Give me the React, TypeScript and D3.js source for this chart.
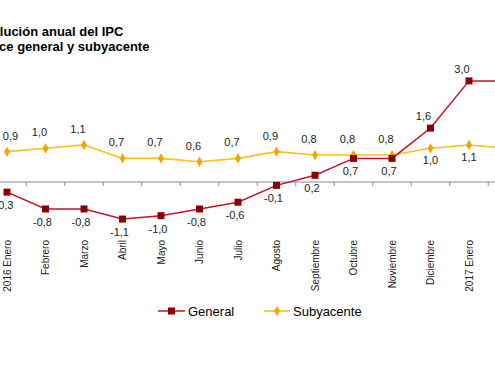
import React from "react";
import * as d3 from "d3";

const categories = [
  "2016 Enero", "Febrero", "Marzo", "Abril", "Mayo", "Junio", "Julio",
  "Agosto", "Septiembre", "Octubre", "Noviembre", "Diciembre", "2017 Enero", "Febrero",
];
const general = [-0.3, -0.8, -0.8, -1.1, -1.0, -0.8, -0.6, -0.1, 0.2, 0.7, 0.7, 1.6, 3.0, 3.0];
const subyacente = [0.9, 1.0, 1.1, 0.7, 0.7, 0.6, 0.7, 0.9, 0.8, 0.8, 0.8, 1.0, 1.1, 1.0];
const titleLines = ["Evolución anual del IPC", "Índice general y subyacente"];
const seriesNames = ["General", "Subyacente"];

const W = 495;
const H = 375;
const GEN_LINE = "#c8102e";
const GEN_MARK = "#8b0000";
const SUB_LINE = "#f7c21a";
const SUB_MARK = "#f5a300";
const FONT = "'Liberation Sans', Arial, sans-serif";

const fmt = (v: number) => v.toFixed(1).replace(".", ",");

export default function App() {
  const x = d3.scaleLinear().domain([0, categories.length - 1]).range([7, 507.5]);
  const y = d3.scaleLinear().domain([-1.5, 3.5]).range([182 + 1.5 * 33.7, 182 - 3.5 * 33.7]);
  const line = d3.line<number>().x((_, i) => x(i)).y((d) => y(d));
  const ticks = d3.range(-0.5, categories.length, 1);
  const zero = y(0);
  const visible = categories.map((_, i) => i).filter((i) => x(i) <= W);

  return (
    <svg width={W} height={H} style={{ position: "absolute", left: 0, top: 0, background: "#fff" }} fontFamily={FONT}>
      <rect width={W} height={H} fill="#fff" />
      <text x={-24} y={36} fontSize={13} fontWeight="bold" fill="#000">{titleLines[0]}</text>
      <text x={-24} y={51} fontSize={13} fontWeight="bold" fill="#000">{titleLines[1]}</text>

      {/* axis */}
      <line x1={0} x2={W} y1={zero} y2={zero} stroke="#8a8a8a" strokeWidth={1} />
      {ticks.map((t) => (
        <line key={t} x1={x(t)} x2={x(t)} y1={zero} y2={zero + 4} stroke="#8a8a8a" strokeWidth={1} />
      ))}
      {visible.map((i) => (
        <text key={i} transform={`translate(${x(i) + 3.5},240) rotate(-90)`} textAnchor="end" fontSize={10} fill="#222">{categories[i]}</text>
      ))}

      {/* subyacente */}
      <path d={line(subyacente) || ""} fill="none" stroke={SUB_LINE} strokeWidth={1.6} />
      {subyacente.map((v, i) => (
        <path key={i} d={d3.symbol(d3.symbolDiamond, 30)() || ""} transform={`translate(${x(i)},${y(v)})`} fill={SUB_MARK} />
      ))}
      {/* general */}
      <path d={line(general) || ""} fill="none" stroke={GEN_LINE} strokeWidth={1.5} />
      {general.map((v, i) => (
        <rect key={i} x={x(i) - 3.5} y={y(v) - 3.5} width={7} height={7} fill={GEN_MARK} />
      ))}

      {/* labels */}
      {visible.map((i) => {
        const genAbove = general[i] > subyacente[i];
        const subX = Math.max(10.5, x(i) + (genAbove ? 0 : -6));
        return (
          <g key={i} fontSize={11} fill="#222" textAnchor="middle">
            <text x={x(i) + (genAbove ? -7 : -3)} y={y(general[i]) + (genAbove ? -8 : 17)}>{fmt(general[i])}</text>
            <text x={subX} y={y(subyacente[i]) + (genAbove ? 16 : -12)}>{fmt(subyacente[i])}</text>
          </g>
        );
      })}

      {/* legend */}
      <line x1={158} x2={185} y1={311} y2={311} stroke={GEN_LINE} strokeWidth={1.5} />
      <rect x={168} y={307.5} width={7} height={7} fill={GEN_MARK} />
      <text x={188} y={315.5} fontSize={13} fill="#000">{seriesNames[0]}</text>
      <line x1={264} x2={290} y1={311} y2={311} stroke={SUB_LINE} strokeWidth={1.6} />
      <path d={d3.symbol(d3.symbolDiamond, 30)() || ""} transform="translate(277,311)" fill={SUB_MARK} />
      <text x={293} y={315.5} fontSize={13} fill="#000">{seriesNames[1]}</text>
    </svg>
  );
}
